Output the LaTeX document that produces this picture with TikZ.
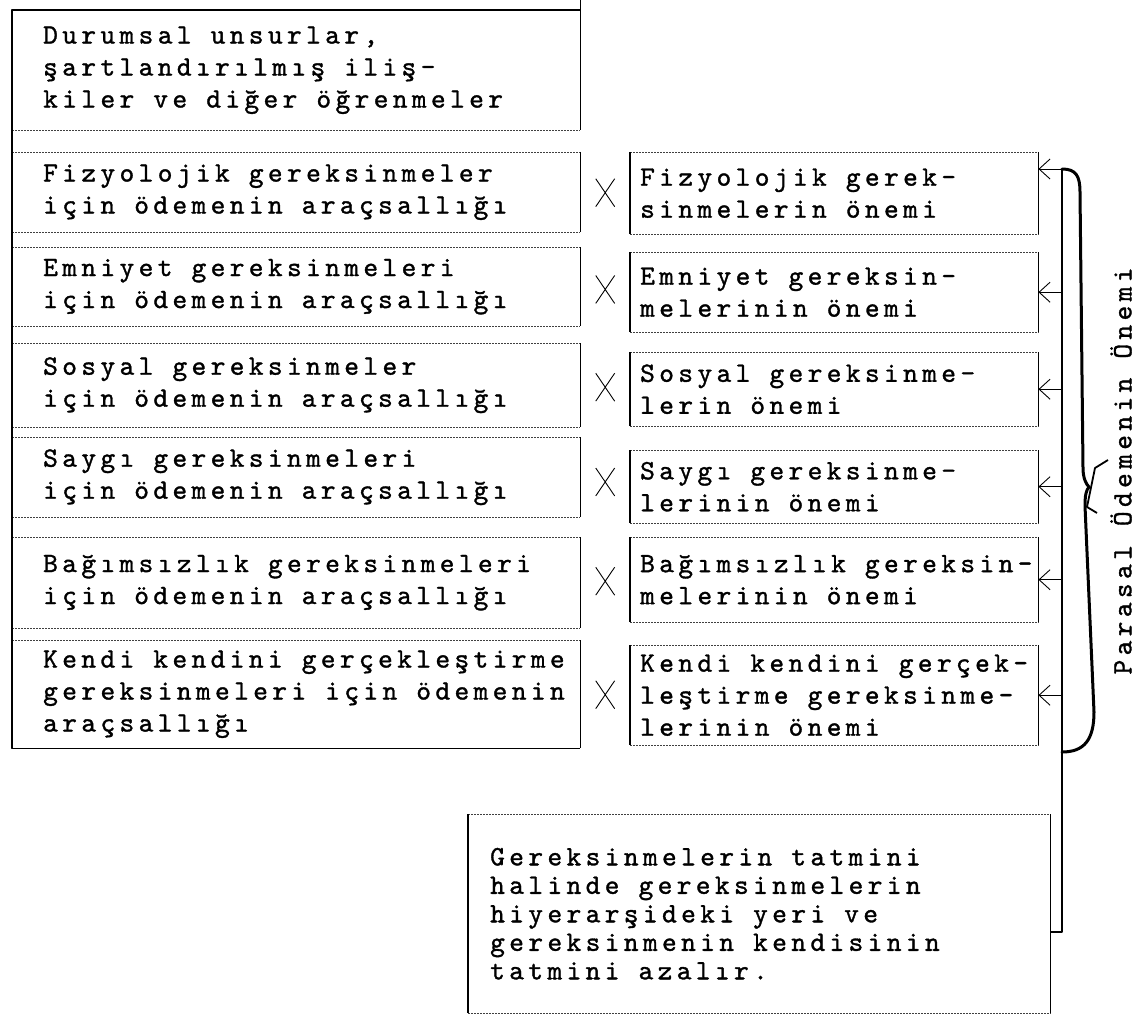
\documentclass[tikz,border=0pt]{standalone}
\usepackage{fontspec}
\newfontfamily\typer{lmmono10-regular.otf}[LetterSpace=15.7,FakeBold=1.2]
\usetikzlibrary{arrows.meta,shapes.misc,calc}

\begin{document}
\begin{tikzpicture}
[x=1pt,y=-1pt,
  boxDecorate/.style={rectangle,inner sep=0pt,anchor=north west},
  textDecorate/.style={font=\typer\fontsize{28}{32}\selectfont,align=left,inner sep=0pt,anchor=west},
  sideDecorate/.style={line width=1.4pt},
  rimDecorate/.style={line width=0.9pt,dash pattern=on 2pt off 1pt,black!75},
  frameDecorate/.style={line width=1.2pt,line join=round},
  crossDecorate/.style={shape=cross out,draw,line width=0.9pt,minimum width=18pt,minimum height=27pt,inner sep=0pt},
  arrowDecorate/.style={-{Straight Barb[length=11pt,width=20pt]},line width=0.9pt},
  braceDecorate/.style={line width=3pt,line cap=round,line join=round}]
\useasboundingbox (0,0) rectangle (1141,1022);
%% left column: instrumentality of pay
\foreach \row/\ypos/\hgt/\txt in {
  0/10/120/{Durumsal unsurlar,\\şartlandırılmış iliş-\\kiler ve diğer öğrenmeler},
  1/152/80/{Fizyolojik gereksinmeler\\için ödemenin araçsallığı},
  2/247/79/{Emniyet gereksinmeleri\\için ödemenin araçsallığı},
  3/343/84/{Sosyal gereksinmeler\\için ödemenin araçsallığı},
  4/437/80/{Saygı gereksinmeleri\\için ödemenin araçsallığı},
  5/537/91/{Bağımsızlık gereksinmeleri\\için ödemenin araçsallığı},
  6/640/108/{Kendi kendini gerçekleştirme\\gereksinmeleri için ödemenin\\araçsallığı}}
{
  \node (L\row) at (12,\ypos) [boxDecorate,minimum width=568pt,minimum height=\hgt pt] {};
  \node (LT\row) at ([xshift=31pt]L\row.west) [textDecorate] {\txt};
  \draw[rimDecorate] (L\row.north west) -- (L\row.north east) (L\row.south west) -- (L\row.south east);
  \draw[sideDecorate] (L\row.north east) -- (L\row.south east);
}
\draw[frameDecorate] (L0.north east) -- (L0.north west) -- (L6.south west) -- (L6.south east);
\draw[sideDecorate] (L0.north east) -- ++(0,-10);
%% right column: importance of needs
\foreach \row/\ypos/\hgt/\txt in {
  1/152/82/{Fizyolojik gerek-\\sinmelerin önemi},
  2/252/80/{Emniyet gereksin-\\melerinin önemi},
  3/352/74/{Sosyal gereksinme-\\lerin önemi},
  4/450/73/{Saygı gereksinme-\\lerinin önemi},
  5/537/85/{Bağımsızlık gereksin-\\melerinin önemi},
  6/645/100/{Kendi kendini gerçek-\\leştirme gereksinme-\\lerinin önemi}}
{
  \node (R\row) at (630,\ypos) [boxDecorate,minimum width=408pt,minimum height=\hgt pt] {};
  \node (RT\row) at ([xshift=10pt]R\row.west) [textDecorate] {\txt};
  \draw[rimDecorate] (R\row.north west) -- (R\row.north east) (R\row.south west) -- (R\row.south east);
  \draw[sideDecorate] (R\row.north west) -- (R\row.south west) (R\row.north east) -- (R\row.south east);
  \node (X\row) at ($(L\row.east)!0.5!(R\row.west)$) [crossDecorate] {};
}
%% bottom box
\node (B) at (468,814) [boxDecorate,minimum width=582pt,minimum height=199pt] {};
\node (BT) at ([xshift=22pt]B.west) [textDecorate,font=\typer\fontsize{28}{28.5}\selectfont]
  {Gereksinmelerin tatmini\\halinde gereksinmelerin\\hiyerarşideki yeri ve\\gereksinmenin kendisinin\\tatmini azalır.};
\draw[rimDecorate] (B.north west) -- (B.north east) (B.south west) -- (B.south east);
\draw[sideDecorate] (B.north west) -- (B.south west) (B.north east) -- (B.south east);
%% trunk, arrows and brace
\coordinate (tk) at (1062,169);
\coordinate (tb) at (1062,932);
\coordinate (bb) at (1062,752);
\draw[frameDecorate] (tk) -- (tb) -- (tb -| B.east);
\draw[arrowDecorate] (tk) -- (tk -| R1.east);
\path
\foreach \row in {2,...,6}
{
  (tk |- R\row.east) edge[arrowDecorate] (R\row.east)
};
\draw[braceDecorate] (tk) .. controls (1076,169) and (1080,176) .. (1080,192)
  -- (1083,468) .. controls (1083,478) and (1086,484) .. (1089,487)
  .. controls (1086,490) and (1085,496) .. (1085,506)
  -- (1094,712) .. controls (1094,740) and (1084,752) .. (bb);
\draw[line width=1.8pt,line join=round] (1108,460) -- (1095,468) -- (1087,507) -- (1097,513);
\node (P) at (1121,471) [textDecorate,anchor=center,rotate=90] {Parasal Ödemenin Önemi};
\end{tikzpicture}
\end{document}
